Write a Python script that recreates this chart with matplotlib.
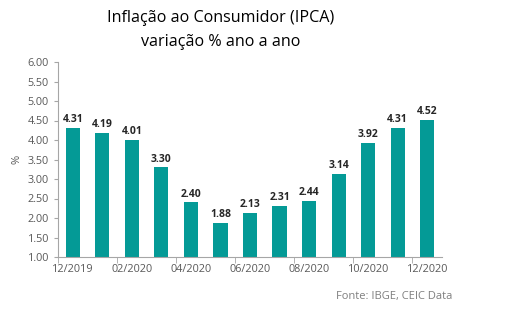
import matplotlib.pyplot as plt
import numpy as np

meses = ['12/2019', '01/2020', '02/2020', '03/2020', '04/2020', '05/2020', '06/2020',
         '07/2020', '08/2020', '09/2020', '10/2020', '11/2020', '12/2020']
ipca = [4.31, 4.19, 4.01, 3.30, 2.40, 1.88, 2.13, 2.31, 2.44, 3.14, 3.92, 4.31, 4.52]

plt.rcParams['font.family'] = ['Open Sans', 'DejaVu Sans']
cinza = '#595959'

fig = plt.figure(figsize=(5.07, 3.28), dpi=100)
ax = fig.add_axes([58/507, 1 - 257/328, (442-58)/507, (257-62)/328])

x = np.arange(len(ipca))
ax.bar(x, ipca, width=0.48, color='#049a96')
for xi, v in zip(x, ipca):
    ax.text(xi, v + 0.07, f'{v:.2f}', ha='center', va='bottom',
            fontsize=7.5, fontweight='bold', color='#262626')

ax.set_xlim(-0.5, len(ipca) - 0.5)
ax.set_ylim(1, 6)
ax.set_yticks(np.arange(1, 6.01, 0.5))
ax.set_yticklabels([f'{t:.2f}' for t in np.arange(1, 6.01, 0.5)])
ax.set_xticks(x[::2])
ax.set_xticklabels(meses[::2])
ax.set_xticks(np.arange(-0.5, len(ipca), 2), minor=True)
ax.tick_params(axis='x', which='major', length=0, labelsize=7.8, labelcolor=cinza, pad=5)
ax.tick_params(axis='x', which='minor', length=4, color='#a6a6a6')
ax.tick_params(axis='y', length=3, color='#a6a6a6', labelsize=7.8, labelcolor=cinza)
for s in ['top', 'right']:
    ax.spines[s].set_visible(False)
for s in ['left', 'bottom']:
    ax.spines[s].set_color('#a6a6a6')
ax.set_ylabel('%', fontsize=8, color=cinza, labelpad=4)

fig.text(221/507, 1 - 18/328, 'Inflação ao Consumidor (IPCA)', ha='center', va='center',
         fontsize=11.6, color='#000000')
fig.text(221/507, 1 - 42/328, 'variação % ano a ano', ha='center', va='center',
         fontsize=11.6, color='#000000')
fig.text(452/507, 1 - 296/328, 'Fonte: IBGE, CEIC Data', ha='right', va='center',
         fontsize=8, color='#7f7f7f')

fig.savefig('out.png', dpi=100)
